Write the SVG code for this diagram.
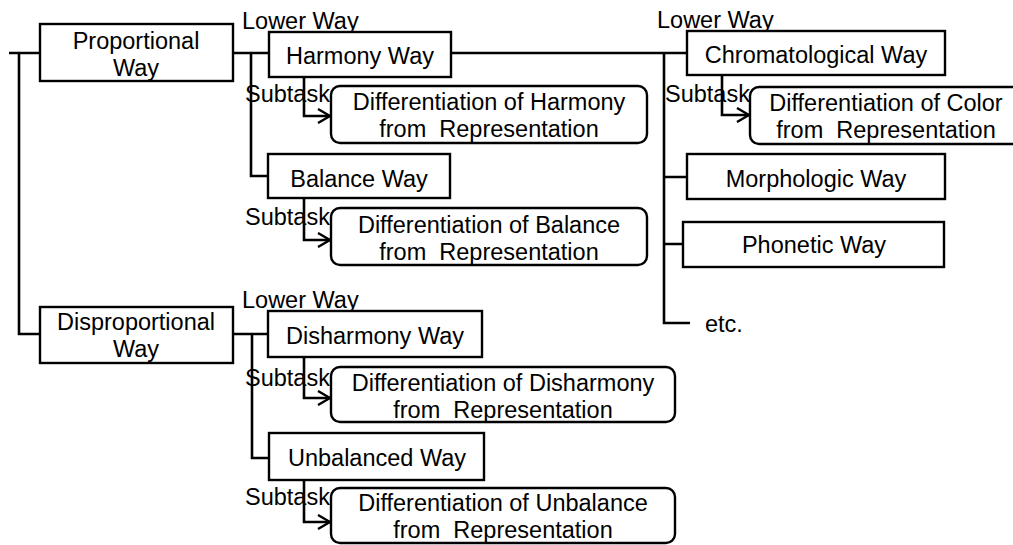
<svg xmlns="http://www.w3.org/2000/svg" width="1013" height="545" viewBox="0 0 1013 545">
  <style>
    .box { fill: #fff; stroke: #000; stroke-width: 2.4; }
    .rbox { fill: #fff; stroke: #000; stroke-width: 2.4; }
    .wire { fill: none; stroke: #000; stroke-width: 2.6; }
    text { font-family: "Liberation Sans", Arial, sans-serif; font-size: 23.5px; fill: #000; }
    .c { text-anchor: middle; }
  </style>
  <defs>
    <marker id="open" viewBox="0 0 14 16" refX="13" refY="8" markerWidth="14" markerHeight="16" markerUnits="userSpaceOnUse" orient="auto">
      <path d="M1,1 L13,8 L1,15" fill="none" stroke="#000" stroke-width="2.4"/>
    </marker>
  </defs>

  <rect width="1013" height="545" fill="#fff"/>

  <!-- connectors -->
  <g id="connectors">
    <!-- root bracket -->
    <path class="wire" d="M9,53 H40 M19,53 V334 H40"/>
    <!-- proportional branch -->
    <path class="wire" d="M233,53 H269 M251,53 V176 H268"/>
    <!-- disproportional branch -->
    <path class="wire" d="M233,334 H268 M252,334 V458 H269"/>
    <!-- harmony lower ways -->
    <path class="wire" d="M451,53 H687 M664,53 V323 H690 M664,177 H687 M664,244 H683"/>
    <!-- subtasks -->
    <path class="wire" d="M304,77 V116 H330" marker-end="url(#open)"/>
    <path class="wire" d="M722,75 V115 H749" marker-end="url(#open)"/>
    <path class="wire" d="M304,198 V240 H330" marker-end="url(#open)"/>
    <path class="wire" d="M304,357 V398 H330" marker-end="url(#open)"/>
    <path class="wire" d="M304,480 V522 H330" marker-end="url(#open)"/>
  </g>

  <!-- edge labels -->
  <g id="labels">
    <text x="242" y="29">Lower Way</text>
    <text x="657" y="28">Lower Way</text>
    <text x="242" y="308">Lower Way</text>
    <text x="245" y="102">Subtask</text>
    <text x="665" y="102">Subtask</text>
    <text x="245" y="225">Subtask</text>
    <text x="245" y="386">Subtask</text>
    <text x="245" y="505">Subtask</text>
    <text x="705" y="332">etc.</text>
  </g>

  <g id="proportional">
    <rect class="box" x="40" y="24" width="193" height="57"/>
    <text class="c" x="136" y="49">Proportional</text>
    <text class="c" x="136" y="76">Way</text>
  </g>

  <g id="disproportional">
    <rect class="box" x="40" y="307" width="193" height="56"/>
    <text class="c" x="136" y="330">Disproportional</text>
    <text class="c" x="136" y="357">Way</text>
  </g>

  <g id="harmony">
    <rect class="box" x="269" y="32" width="182" height="45"/>
    <text class="c" x="360" y="64">Harmony Way</text>
  </g>

  <g id="harmony-subtask">
    <rect class="rbox" x="331" y="86" width="316" height="57" rx="9"/>
    <text class="c" x="489" y="110">Differentiation of Harmony</text>
    <text class="c" x="489" y="137" xml:space="preserve">from  Representation</text>
  </g>

  <g id="balance">
    <rect class="box" x="268" y="154" width="182" height="44"/>
    <text class="c" x="359" y="187">Balance Way</text>
  </g>

  <g id="balance-subtask">
    <rect class="rbox" x="331" y="208" width="316" height="57" rx="9"/>
    <text class="c" x="489" y="233">Differentiation of Balance</text>
    <text class="c" x="489" y="260" xml:space="preserve">from  Representation</text>
  </g>

  <g id="chromatological">
    <rect class="box" x="687" y="31" width="258" height="44"/>
    <text class="c" x="816" y="63">Chromatological Way</text>
  </g>

  <g id="color-subtask">
    <rect class="rbox" x="750" y="87" width="272" height="57" rx="9"/>
    <text class="c" x="886" y="111">Differentiation of Color</text>
    <text class="c" x="886" y="138" xml:space="preserve">from  Representation</text>
  </g>

  <g id="morphologic">
    <rect class="box" x="687" y="154" width="258" height="45"/>
    <text class="c" x="816" y="187">Morphologic Way</text>
  </g>

  <g id="phonetic">
    <rect class="box" x="683" y="222" width="261" height="45"/>
    <text class="c" x="814" y="253">Phonetic Way</text>
  </g>

  <g id="disharmony">
    <rect class="box" x="268" y="311" width="214" height="46"/>
    <text class="c" x="375" y="344">Disharmony Way</text>
  </g>

  <g id="disharmony-subtask">
    <rect class="rbox" x="331" y="367" width="344" height="55" rx="9"/>
    <text class="c" x="503" y="391">Differentiation of Disharmony</text>
    <text class="c" x="503" y="418" xml:space="preserve">from  Representation</text>
  </g>

  <g id="unbalanced">
    <rect class="box" x="269" y="433" width="215" height="47"/>
    <text class="c" x="377" y="466">Unbalanced Way</text>
  </g>

  <g id="unbalance-subtask">
    <rect class="rbox" x="331" y="488" width="344" height="55" rx="9"/>
    <text class="c" x="503" y="511">Differentiation of Unbalance</text>
    <text class="c" x="503" y="538" xml:space="preserve">from  Representation</text>
  </g>
</svg>
